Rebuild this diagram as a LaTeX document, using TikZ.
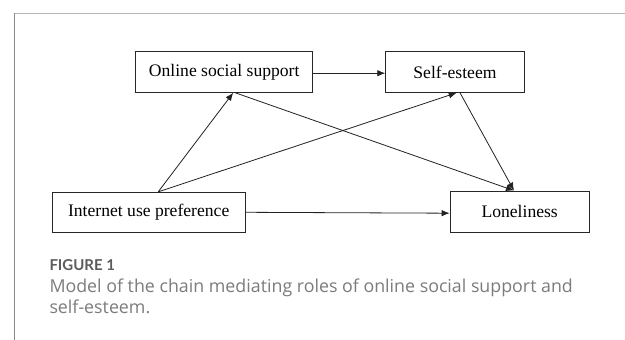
\documentclass[tikz,border=0pt]{standalone}
\usepackage{fontspec}
\setmainfont{Liberation Serif}
\newfontfamily\capfont{Open Sans}
\newfontfamily\figfont{Lato}
\usetikzlibrary{arrows.meta}
\definecolor{framegray}{HTML}{B4B4B4}
\definecolor{sidegray}{HTML}{8A8A8A}
\definecolor{capgray}{HTML}{7C7C7C}
\definecolor{figgray}{HTML}{5C5C5C}
\definecolor{linegray}{HTML}{222222}
\begin{document}
\begin{tikzpicture}[x=1pt,y=-1pt,
  varbox/.style={draw=black!85, line width=0.9pt, inner sep=0pt, font=\fontsize{17.6}{20}\selectfont},
  conn/.style={draw=linegray, line width=0.8pt, -{Latex[length=8pt,width=6.5pt]}},
  captxt/.style={inner sep=0pt, anchor=base west, text=capgray, font=\capfont\fontsize{17.8}{20}\selectfont}]
\useasboundingbox (0,0) rectangle (625,340);
\fill[white] (0,0) rectangle (625,340);
% frame
\draw[framegray, line width=1.4pt] (14.3,13.6) -- (625,13.6);
\draw[sidegray, line width=1pt] (14.3,13) -- (14.3,340);
% boxes
\node[varbox, minimum width=177pt, minimum height=40.6pt] (oss) at (224.2,72) {Online social support};
\node[varbox, minimum width=138.6pt, minimum height=40.6pt] (se) at (455,72) {Self-esteem};
\node[varbox, minimum width=192.7pt, minimum height=40pt] (iup) at (148.7,212.3) {Internet use preference};
\node[varbox, minimum width=139.3pt, minimum height=41.3pt] (lon) at (519.7,211.7) {Loneliness};
% border points
\coordinate (iupT) at ([xshift=9.5pt]iup.north);
\coordinate (ossIn) at ([xshift=9pt]oss.south);
\coordinate (ossOut) at ([xshift=11pt]oss.south);
\coordinate (seIn) at ([xshift=1.7pt]se.south);
\coordinate (seOut) at ([xshift=5pt]se.south);
\coordinate (lonT) at ([xshift=-5.7pt]lon.north);
% connectors
\draw[conn] ([yshift=-1.2pt]oss.east) -- ([yshift=-1.2pt]se.west);
\draw[conn] (iupT) -- (ossIn);
\draw[conn] (iupT) -- (seIn);
\draw[conn] (ossOut) -- (lonT);
\draw[conn] (seOut) -- (lonT);
\draw[conn] (iup.east) -- ([yshift=-1.5pt]lon.west);
% caption
\node[captxt, text=figgray, font=\figfont\bfseries\fontsize{15}{17}\selectfont] (figlab) at (49.3,270) {FIGURE 1};
\node[captxt] (cap1) at (49.3,292) {Model of the chain mediating roles of online social support and};
\node[captxt] (cap2) at (49.3,313) {self-esteem.};
\end{tikzpicture}
\end{document}
